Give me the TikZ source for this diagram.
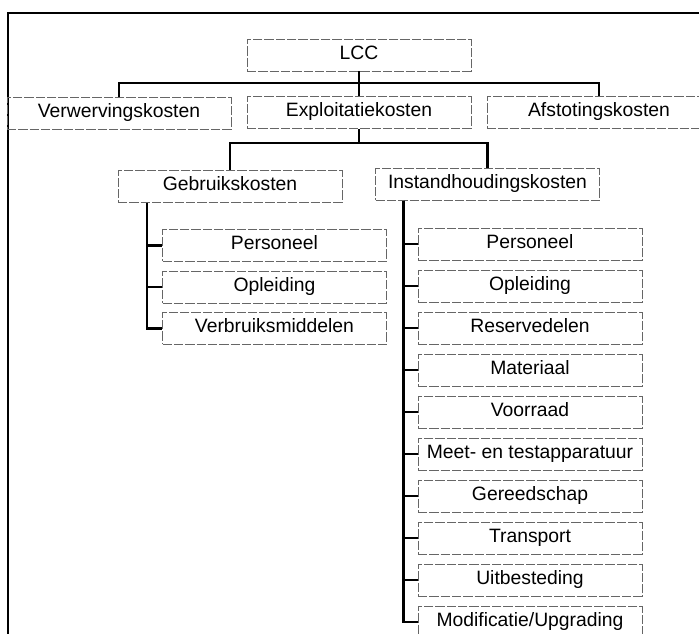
\documentclass[tikz,border=0pt]{standalone}
\usepackage{fontspec}
\setmainfont{Liberation Sans}
\begin{document}
\begin{tikzpicture}
[
    x=0.75pt, y=-0.75pt,
    kost/.style={draw=black!60, dash pattern=on 7pt off 1.5pt, line width=0.4pt,
        minimum width=168pt, minimum height=24pt, inner sep=0pt,
        text height=1.45ex, text depth=0.25ex, font=\fontsize{14.5}{17}\selectfont},
    tak/.style={line width=1.9pt},
]
\useasboundingbox (0,0) rectangle (699,634);
\draw[line width=1.8pt] (8,634) -- (8,13) -- (699,13);
\node[kost] (lcc) at (359,55) {LCC};
\node[kost] (verw) at (119,113.5) {Verwervingskosten};
\node[kost] (expl) at (359,112.5) {Exploitatiekosten};
\node[kost] (afst) at (599,112) {Afstotingskosten};
\node[kost] (gebr) at (230,186.5) {Gebruikskosten};
\node[kost] (inst) at (487.5,184.5) {Instandhoudingskosten};
\foreach \name [count=\i] in {Personeel,Opleiding,Verbruiksmiddelen}
    \node[kost] (g\i) at (274.5,{245.5+41.5*(\i-1)}) {\name};
\foreach \name [count=\i] in {Personeel,Opleiding,Reservedelen,Materiaal,Voorraad,
        Meet- en testapparatuur,Gereedschap,Transport,Uitbesteding,Modificatie/Upgrading}
    \node[kost] (i\i) at (530,{244+42*(\i-1)}) {\name};
% forks
\coordinate (fork1) at (359,83);
\coordinate (fork2) at (359,143);
\draw[tak] (lcc.south) -- (expl.north);
\draw[tak] (verw.north) |- (fork1) -| (afst.north);
\draw[tak] (expl.south) -- (fork2);
\draw[tak] (gebr.north) |- (fork2) -| (inst.north);
\foreach \i in {1,2,3}
    \draw[tak] ([xshift=22pt]gebr.south west) |- (g\i.west);
\foreach \i in {1,...,10}
    \draw[tak] ([xshift=21pt]inst.south west) |- (i\i.west);
\end{tikzpicture}
\end{document}
